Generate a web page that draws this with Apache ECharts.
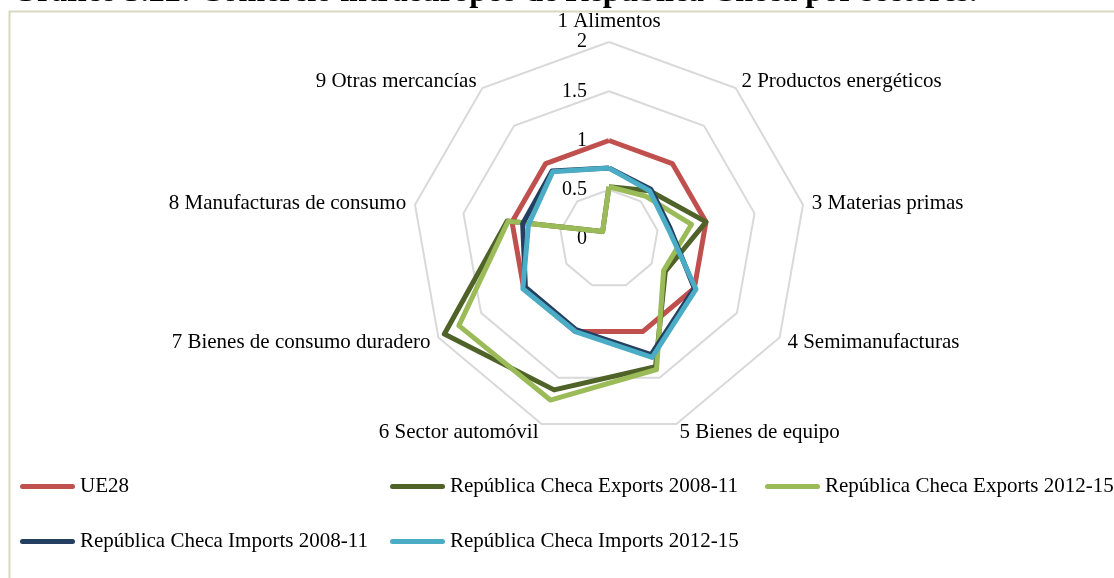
<!DOCTYPE html>
<html>
<head>
<meta charset="utf-8">
<script src="https://cdn.jsdelivr.net/npm/echarts@6/dist/echarts.min.js"></script>
<style>
  html, body { margin: 0; padding: 0; background: #fff; }
  #chart { width: 1114px; height: 578px; }
</style>
</head>
<body>
<div id="chart"></div>
<script>
var sectors = ['1 Alimentos', '2 Productos energéticos', '3 Materias primas', '4 Semimanufacturas',
  '5 Bienes de equipo', '6 Sector automóvil', '7 Bienes de consumo duradero',
  '8 Manufacturas de consumo', '9 Otras mercancías'];
var ticks = [0, 0.5, 1, 1.5, 2];

var ue28 = [1, 1, 1, 1, 1, 1, 1, 1, 1];
var exports0811 = [0.53, 0.64, 1.0, 0.66, 1.38, 1.63, 1.93, 1.05, 0.1];
var exports1215 = [0.53, 0.57, 0.85, 0.64, 1.41, 1.74, 1.76, 1.04, 0.1];
var imports0811 = [0.72, 0.66, 0.63, 1.0, 1.25, 0.98, 0.98, 0.89, 0.9];
var imports1215 = [0.72, 0.64, 0.61, 1.02, 1.28, 1.0, 1.01, 0.83, 0.89];

var seriesNames = ['UE28', 'República Checa Exports 2008-11', 'República Checa Exports 2012-15',
  'República Checa Imports 2008-11', 'República Checa Imports 2012-15'];
var seriesValues = [ue28, exports0811, exports1215, imports0811, imports1215];
var colors = ['#C0504D', '#4F6228', '#9BBB59', '#243F60', '#4BACC6'];

var font = "'Liberation Serif', 'Times New Roman', serif";

// echarts lays the radar out counter-clockwise, the original runs clockwise
var order = [0, 8, 7, 6, 5, 4, 3, 2, 1];
function reorder(arr) {
  return order.map(function(i) { return arr[i]; });
}

// legend slots: [left, top]
var legendPos = [[20, 476], [390, 476], [765, 476], [20, 531], [390, 531]];
var lineIcon = 'path://M2.5,0 L52.5,0 A2.5,2.5 0 0 1 52.5,5 L2.5,5 A2.5,2.5 0 0 1 2.5,0 Z';

var chart = echarts.init(document.getElementById('chart'));
chart.setOption({
  animation: false,
  backgroundColor: '#fff',
  title: {
    text: 'Gráfico 3.22: Comercio intraeuropeo de República Checa por sectores.',
    left: 12,
    top: -23,
    padding: 0,
    textStyle: { fontFamily: font, fontWeight: 'bold', fontSize: 32, color: '#000' }
  },
  graphic: [{
    type: 'rect',
    left: 7,
    top: 9,
    silent: true,
    z: -10,
    shape: { width: 1300, height: 800 },
    style: { fill: 'none', stroke: '#D9D7C1', lineWidth: 2 }
  }],
  legend: seriesNames.map(function(n, i) {
    return {
      data: [n],
      left: legendPos[i][0],
      top: legendPos[i][1],
      padding: 0,
      selectedMode: false,
      icon: lineIcon,
      itemWidth: 55,
      itemHeight: 5,
      itemGap: 4,
      textStyle: { fontFamily: font, fontSize: 21, color: '#000' }
    };
  }),
  radar: {
    center: [609, 239],
    radius: 197,
    startAngle: 90,
    splitNumber: ticks.length - 1,
    shape: 'polygon',
    nameGap: 9,
    indicator: reorder(sectors).map(function(s, i) {
      var ind = { name: s, min: ticks[0], max: ticks[ticks.length - 1] };
      if (i === 0) ind.axisLabel = { show: true };
      return ind;
    }),
    axisName: { color: '#000', fontSize: 21, fontFamily: font },
    splitLine: { lineStyle: { color: '#D9D9D9', width: 2 } },
    splitArea: { show: false },
    axisLine: { show: false },
    axisTick: { show: false },
    axisLabel: { show: false, color: '#000', fontSize: 20, fontFamily: font, margin: 22 }
  },
  series: [{
    type: 'radar',
    symbol: 'none',
    data: seriesNames.map(function(n, i) {
      return {
        name: n,
        value: reorder(seriesValues[i]),
        lineStyle: { color: colors[i], width: 5 },
        itemStyle: { color: colors[i] }
      };
    })
  }]
});
</script>
</body>
</html>
